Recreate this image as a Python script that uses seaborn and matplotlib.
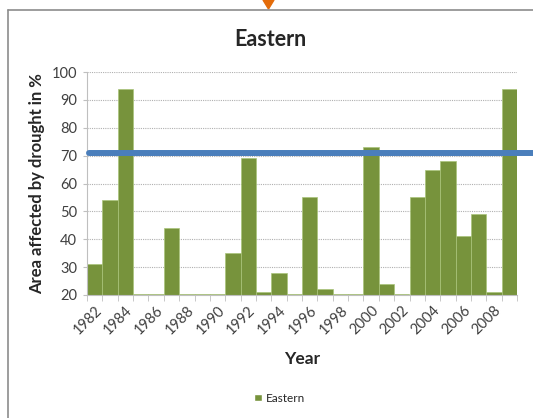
import matplotlib
matplotlib.use("Agg")
import matplotlib.pyplot as plt
import seaborn as sns
import pandas as pd
import numpy as np
from matplotlib.lines import Line2D
from matplotlib.patches import Polygon, Patch

years = list(range(1982, 2010))
area = [31, 54, 94, 20.3, 20.3, 44, 20.3, 20.3, 20.3, 35, 69, 21, 28, 20.3,
        55, 22, 20.3, 20.3, 73, 24, 20.3, 55, 65, 68, 41, 49, 21, 94]
threshold = 71.1
series_name = "Eastern"

df = pd.DataFrame({"Year": [str(y) for y in years], "Area": area})

sns.set_style("white")
plt.rcParams["font.family"] = ["Lato", "DejaVu Sans"]

fig = plt.figure(figsize=(5.33, 4.18), dpi=100)
ax = fig.add_axes([87 / 533, 1 - 295 / 418, 430 / 533, 223 / 418])

green = "#77933c"
sns.barplot(data=df, x="Year", y="Area", color=green, width=1.0,
            edgecolor="#a9c47a", linewidth=0.5, saturation=1, ax=ax, zorder=2)

ax.set_ylim(20, 100)
ax.set_xlim(-0.5, len(years) - 0.5)
ax.set_yticks(np.arange(20, 101, 10))
ax.tick_params(axis="y", labelsize=10.5, colors="#404040", length=3,
               direction="out", left=True, color="#bfbfbf", pad=4)
for yv in range(30, 101, 10):
    ax.axhline(yv, color="#b0b0b0", lw=0.8, ls=(0, (1, 1)), zorder=1)

# year labels on every other bar, ticks between bars
pos = np.arange(len(years))
ax.set_xticks(pos[::2])
ax.set_xticklabels([str(y) for y in years[::2]], rotation=45, ha="right",
                   rotation_mode="anchor", fontsize=10.5, color="#404040")
ax.set_xticks(np.arange(-0.5, len(years), 1), minor=True)
ax.tick_params(axis="x", which="major", length=0, pad=6)
ax.tick_params(axis="x", which="minor", length=4, bottom=True,
               direction="out", color="#bfbfbf")

for s in ["top", "right"]:
    ax.spines[s].set_visible(False)
for s in ["left", "bottom"]:
    ax.spines[s].set_color("#bfbfbf")
    ax.spines[s].set_linewidth(0.8)

ax.set_xlabel("Year", fontsize=12.5, fontweight="bold", labelpad=10)
ax.set_ylabel("Area affected by drought in %", fontsize=12, fontweight="bold",
              labelpad=5)
fig.text(270 / 533, 1 - 40 / 418, "Eastern", fontsize=15.5, fontweight="bold",
         ha="center", va="center")

# threshold line running out past the plot area
ax.plot([0.005, 1.04], [threshold, threshold], transform=ax.get_yaxis_transform(),
        color="#4a7ebb", lw=4.3, clip_on=False, zorder=3)

fig.legend(handles=[Patch(facecolor=green, label=series_name)],
           loc="center", bbox_to_anchor=(280 / 533, 1 - 398 / 418),
           frameon=False, fontsize=8.5, handlelength=0.6, handleheight=0.6,
           handletextpad=0.4)

# outer frame and marker
fig.add_artist(Line2D([8 / 533, 1], [1 - 10 / 418] * 2, color="#8c8c8c", lw=1.2))
fig.add_artist(Line2D([8 / 533] * 2, [0, 1 - 10 / 418], color="#8c8c8c", lw=1.2))
fig.add_artist(Polygon([[263 / 533, 1], [274 / 533, 1], [268.5 / 533, 1 - 9 / 418]],
                       closed=True, color="#e46c0a", transform=fig.transFigure))

fig.savefig("out.png", dpi=100)
